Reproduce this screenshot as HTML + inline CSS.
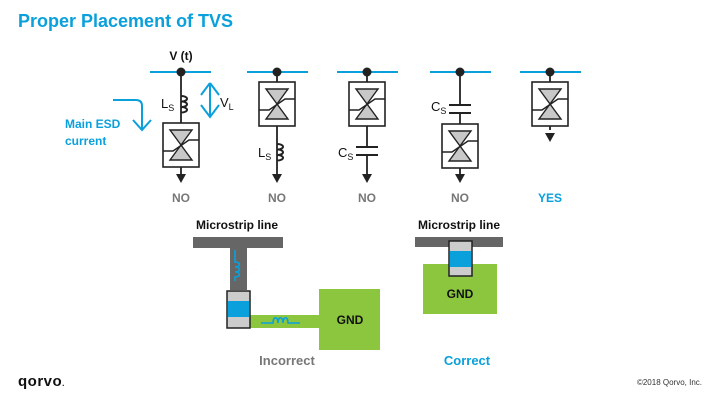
<!DOCTYPE html>
<html><head><meta charset="utf-8"><style>
body{margin:0;background:#fff}
svg{display:block}
text{font-family:"Liberation Sans",sans-serif}
</style></head><body>
<svg width="720" height="400" viewBox="0 0 720 400" xmlns="http://www.w3.org/2000/svg">
<defs>
<g id="tvs">
<rect x="-18" y="-22" width="36" height="44" fill="#fff" stroke="#222" stroke-width="1.6"/>
<polygon points="-11,-15 11,-15 0,0" fill="#c8c8c8" stroke="#222" stroke-width="1.4"/>
<polygon points="-11,15 11,15 0,0" fill="#c8c8c8" stroke="#222" stroke-width="1.4"/>
<polyline points="-18,6 -8,6 8,-5 18,-5" fill="none" stroke="#222" stroke-width="1.4"/>
</g>
<g id="arr"><polygon points="-5,0 5,0 0,9" fill="#222"/></g>
<g id="ind"><path d="M0,0 c8,0 8,5.5 0,5.5 c8,0 8,5.5 0,5.5 c8,0 8,5.5 0,5.5" fill="none" stroke="#222" stroke-width="2"/></g>
</defs>
<text x="18" y="27" font-size="18" font-weight="bold" fill="#0aa0dc">Proper Placement of TVS</text>

<g stroke="#0aa0dc" stroke-width="2">
<line x1="150" y1="72" x2="211" y2="72"/>
<line x1="247" y1="72" x2="308" y2="72"/>
<line x1="337" y1="72" x2="398" y2="72"/>
<line x1="430" y1="72" x2="491" y2="72"/>
<line x1="520" y1="72" x2="581" y2="72"/>
</g>
<g stroke="#222" stroke-width="1.8" fill="none">
<line x1="181" y1="72" x2="181" y2="175"/>
<line x1="277" y1="72" x2="277" y2="175"/>
<line x1="367" y1="72" x2="367" y2="175"/>
<line x1="460" y1="72" x2="460" y2="175"/>
<line x1="550" y1="72" x2="550" y2="130"/>
</g>
<g fill="#222">
<circle cx="181" cy="72" r="4.5"/><circle cx="277" cy="72" r="4.5"/><circle cx="367" cy="72" r="4.5"/><circle cx="460" cy="72" r="4.5"/><circle cx="550" cy="72" r="4.5"/>
</g>
<text x="181" y="60" font-size="12" font-weight="bold" text-anchor="middle" fill="#111">V (t)</text>
<!-- col1 -->
<use href="#ind" x="181" y="96"/>
<text x="161" y="108" font-size="13" fill="#111">L<tspan font-size="9" dy="3">S</tspan></text>
<path d="M210,83 L201,95 M210,83 L219,95 M210,83 L210,117 M201,105 L210,117 L219,105" stroke="#0aa0dc" stroke-width="2" fill="none"/>
<text x="220" y="107" font-size="13" fill="#111">V<tspan font-size="9" dy="3">L</tspan></text>
<path d="M113,100 L136,100 Q142,100 142,106 L142,129 M133,120 L142,130 L151,120" stroke="#0aa0dc" stroke-width="2" fill="none"/>
<text x="65" y="128" font-size="12" font-weight="bold" fill="#0aa0dc">Main ESD</text>
<text x="65" y="145" font-size="12" font-weight="bold" fill="#0aa0dc">current</text>
<use href="#tvs" x="181" y="145"/>
<use href="#arr" x="181" y="174"/>
<!-- col2 -->
<use href="#tvs" x="277" y="104"/>
<use href="#ind" x="277" y="144"/>
<text x="258" y="157" font-size="13" fill="#111">L<tspan font-size="9" dy="3">S</tspan></text>
<use href="#arr" x="277" y="174"/>
<!-- col3 -->
<use href="#tvs" x="367" y="104"/>
<rect x="355" y="147" width="24" height="8" fill="#fff"/>
<g stroke="#222" stroke-width="2"><line x1="356" y1="147" x2="378" y2="147"/><line x1="356" y1="155" x2="378" y2="155"/></g>
<text x="338" y="157" font-size="13" fill="#111">C<tspan font-size="9" dy="3">S</tspan></text>
<use href="#arr" x="367" y="174"/>
<!-- col4 -->
<rect x="448" y="105" width="24" height="8" fill="#fff"/>
<g stroke="#222" stroke-width="2"><line x1="449" y1="105" x2="471" y2="105"/><line x1="449" y1="113" x2="471" y2="113"/></g>
<text x="431" y="111" font-size="13" fill="#111">C<tspan font-size="9" dy="3">S</tspan></text>
<use href="#tvs" x="460" y="146"/>
<use href="#arr" x="460" y="174"/>
<!-- col5 -->
<use href="#tvs" x="550" y="104"/>
<use href="#arr" x="550" y="133"/>

<g font-size="12" font-weight="bold" text-anchor="middle">
<text x="181" y="202" fill="#777">NO</text>
<text x="277" y="202" fill="#777">NO</text>
<text x="367" y="202" fill="#777">NO</text>
<text x="460" y="202" fill="#777">NO</text>
<text x="550" y="202" fill="#0aa0dc">YES</text>
</g>

<!-- incorrect -->
<text x="237" y="229" font-size="12" font-weight="bold" text-anchor="middle" fill="#111">Microstrip line</text>
<rect x="193" y="237" width="90" height="11" fill="#666"/>
<rect x="230" y="248" width="17" height="42" fill="#666"/>
<path d="M235,250 L235,262 c6,0 6,5 0,5 c6,0 6,5 0,5 c6,0 6,5 0,5 L235,281" stroke="#0aa0dc" stroke-width="1.6" fill="none"/>
<rect x="250" y="315" width="70" height="13" fill="#8cc63f"/>
<rect x="319" y="289" width="61" height="61" fill="#8cc63f"/>
<path d="M261,323 L273,323 c0,-7 5,-7 5,0 c0,-7 5,-7 5,0 c0,-7 5,-7 5,0 L300,323" stroke="#0aa0dc" stroke-width="1.6" fill="none"/>
<rect x="227" y="291" width="23" height="37" fill="#ccc" stroke="#222" stroke-width="1.5"/>
<rect x="228" y="301" width="21" height="16" fill="#0aa0dc"/>
<text x="350" y="324" font-size="12" font-weight="bold" text-anchor="middle" fill="#111">GND</text>
<text x="287" y="365" font-size="13" font-weight="bold" text-anchor="middle" fill="#777">Incorrect</text>

<!-- correct -->
<text x="459" y="229" font-size="12" font-weight="bold" text-anchor="middle" fill="#111">Microstrip line</text>
<rect x="415" y="237" width="88" height="10" fill="#666"/>
<rect x="423" y="264" width="74" height="50" fill="#8cc63f"/>
<rect x="449" y="241" width="23" height="35" fill="#ccc" stroke="#222" stroke-width="1.5"/>
<rect x="450" y="251" width="21" height="16" fill="#0aa0dc"/>
<text x="460" y="298" font-size="12" font-weight="bold" text-anchor="middle" fill="#111">GND</text>
<text x="467" y="365" font-size="13" font-weight="bold" text-anchor="middle" fill="#0aa0dc">Correct</text>

<text x="18" y="386" font-size="15" font-weight="bold" fill="#111" letter-spacing="0.5">qorvo<tspan font-size="8">.</tspan></text>
<text x="702" y="385" font-size="8" text-anchor="end" fill="#333">©2018 Qorvo, Inc.</text>
</svg>
</body></html>
